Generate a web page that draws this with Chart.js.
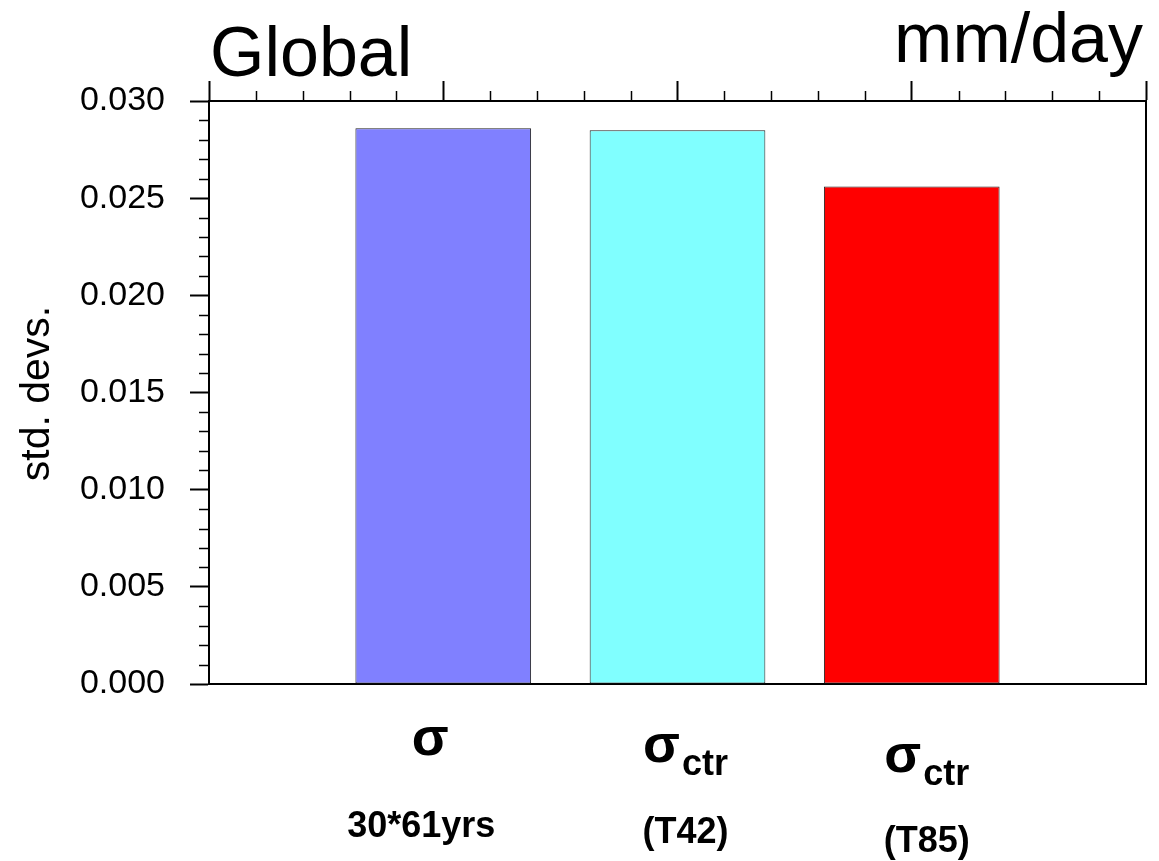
<!DOCTYPE html>
<html>
<head>
<meta charset="utf-8">
<title>Global std. devs.</title>
<script src="https://cdn.jsdelivr.net/npm/chart.js@4/dist/chart.umd.min.js"></script>
<style>
  body { margin: 0; background: #fff; }
  #wrap { width: 1159px; height: 861px; }
</style>
</head>
<body>
<div id="wrap"><canvas id="grafico" width="1159" height="861"></canvas></div>
<script>
// dados do grafico
const posicoes = [1, 2, 3];
const desvios = [0.0286, 0.0285, 0.0256];
const simbolos = ["σ", "σ", "σ"];
const subscritos = ["", "ctr", "ctr"];
const rotulos = ["30*61yrs", "(T42)", "(T85)"];
const corBarras = ["#8080ff", "#80ffff", "#ff0000"];
const yMin = 0, yMax = 0.030, yPasso = 0.005, yPassoMenor = 0.001;
const xMin = 0, xMax = 4, xPassoMenor = 0.2;

const fonte = "'Liberation Sans', Arial, Helvetica, sans-serif";

// ajuste fino dos rotulos de baixo
const deslocX = [-13, 8, 15];
const deslocRotulo = [-22, 8, 15];
const descSimbolo = [71, 78, 88];
const descRotulo = [153, 159, 168];

const extras = {
    id: "extras",
    afterDraw(chart) {
        const ctx = chart.ctx;
        const area = chart.chartArea;
        const x = chart.scales.x;
        const xt = chart.scales.xTopo;
        const y = chart.scales.y;
        ctx.save();
        ctx.strokeStyle = "#000";
        ctx.lineWidth = 1.5;

        // ticks menores eixo y
        for (let v = yMin; v <= yMax + 1e-9; v += yPassoMenor) {
            const k = Math.round(v / yPassoMenor);
            if (k % 5 === 0) continue;
            const py = Math.round(y.getPixelForValue(v)) + 0.5;
            ctx.beginPath();
            ctx.moveTo(area.left - 10, py);
            ctx.lineTo(area.left, py);
            ctx.stroke();
        }
        // ticks menores no topo
        for (let v = xMin; v <= xMax + 1e-9; v += xPassoMenor) {
            const k = Math.round(v / xPassoMenor);
            if (k % 5 === 0) continue;
            const px = Math.round(xt.getPixelForValue(v)) + 0.5;
            ctx.beginPath();
            ctx.moveTo(px, area.top);
            ctx.lineTo(px, area.top - 10);
            ctx.stroke();
        }

        ctx.fillStyle = "#000";
        // titulos
        ctx.font = "70px " + fonte;
        ctx.textBaseline = "alphabetic";
        ctx.textAlign = "left";
        ctx.fillText("Global", area.left + 1, 76);
        ctx.textAlign = "right";
        ctx.fillText("mm/day", area.right - 3, 62);

        // titulo eixo y
        ctx.save();
        ctx.translate(38, (area.top + area.bottom) / 2 + 1);
        ctx.rotate(-Math.PI / 2);
        ctx.textAlign = "center";
        ctx.textBaseline = "middle";
        ctx.font = "41px " + fonte;
        ctx.fillText("std. devs.", 0, 0);
        ctx.restore();

        // rotulos das barras
        for (let i = 0; i < posicoes.length; i++) {
            const px = x.getPixelForValue(posicoes[i]);
            const cx = px + deslocX[i];
            ctx.font = "bold 54px " + fonte;
            const w1 = ctx.measureText(simbolos[i]).width;
            ctx.font = "bold 36px " + fonte;
            const w2 = subscritos[i] ? ctx.measureText(subscritos[i]).width + 2 : 0;
            let sx = cx - (w1 + w2) / 2;
            const base = area.bottom + descSimbolo[i];
            ctx.textAlign = "left";
            ctx.font = "bold 54px " + fonte;
            ctx.fillText(simbolos[i], sx, base);
            if (subscritos[i]) {
                ctx.font = "bold 36px " + fonte;
                ctx.fillText(subscritos[i], sx + w1 + 2, base + 13);
            }
            ctx.textAlign = "center";
            ctx.font = "bold 36px " + fonte;
            ctx.fillText(rotulos[i], px + deslocRotulo[i], area.bottom + descRotulo[i]);
        }
        ctx.restore();
    }
};

new Chart(document.getElementById("grafico"), {
    type: "bar",
    data: {
        datasets: [{
            data: posicoes.map((p, i) => ({ x: p, y: desvios[i] })),
            backgroundColor: corBarras,
            borderColor: "#222",
            borderWidth: 1,
            borderSkipped: false,
            categoryPercentage: 1,
            barPercentage: 0.75
        }]
    },
    options: {
        responsive: false,
        animation: false,
        layout: { padding: 0 },
        plugins: { legend: { display: false }, tooltip: { enabled: false } },
        scales: {
            x: {
                type: "linear", position: "bottom", min: xMin, max: xMax, offset: false,
                grid: { display: false, offset: false },
                ticks: { display: false, stepSize: 1 },
                border: { display: true, color: "#000", width: 2 },
                afterFit: (s) => { s.height = 177; }
            },
            xTopo: {
                type: "linear", position: "top", min: xMin, max: xMax, offset: false,
                ticks: { display: false, stepSize: 1 },
                grid: { drawOnChartArea: false, offset: false, tickLength: 20, tickColor: "#000", tickWidth: 2 },
                border: { display: true, color: "#000", width: 2 },
                afterFit: (s) => { s.height = 101; }
            },
            y: {
                type: "linear", position: "left", min: yMin, max: yMax,
                ticks: {
                    stepSize: yPasso, padding: 25, color: "#000",
                    font: { family: fonte, size: 34 },
                    callback: (v) => v.toFixed(3)
                },
                grid: { drawOnChartArea: false, tickLength: 19, tickColor: "#000", tickWidth: 2 },
                border: { display: true, color: "#000", width: 2 },
                afterFit: (s) => { s.width = 209; }
            },
            yDir: {
                type: "linear", position: "right", min: yMin, max: yMax,
                ticks: { display: false },
                grid: { display: false },
                border: { display: true, color: "#000", width: 2 },
                afterFit: (s) => { s.width = 13; }
            }
        }
    },
    plugins: [extras]
});
</script>
</body>
</html>
